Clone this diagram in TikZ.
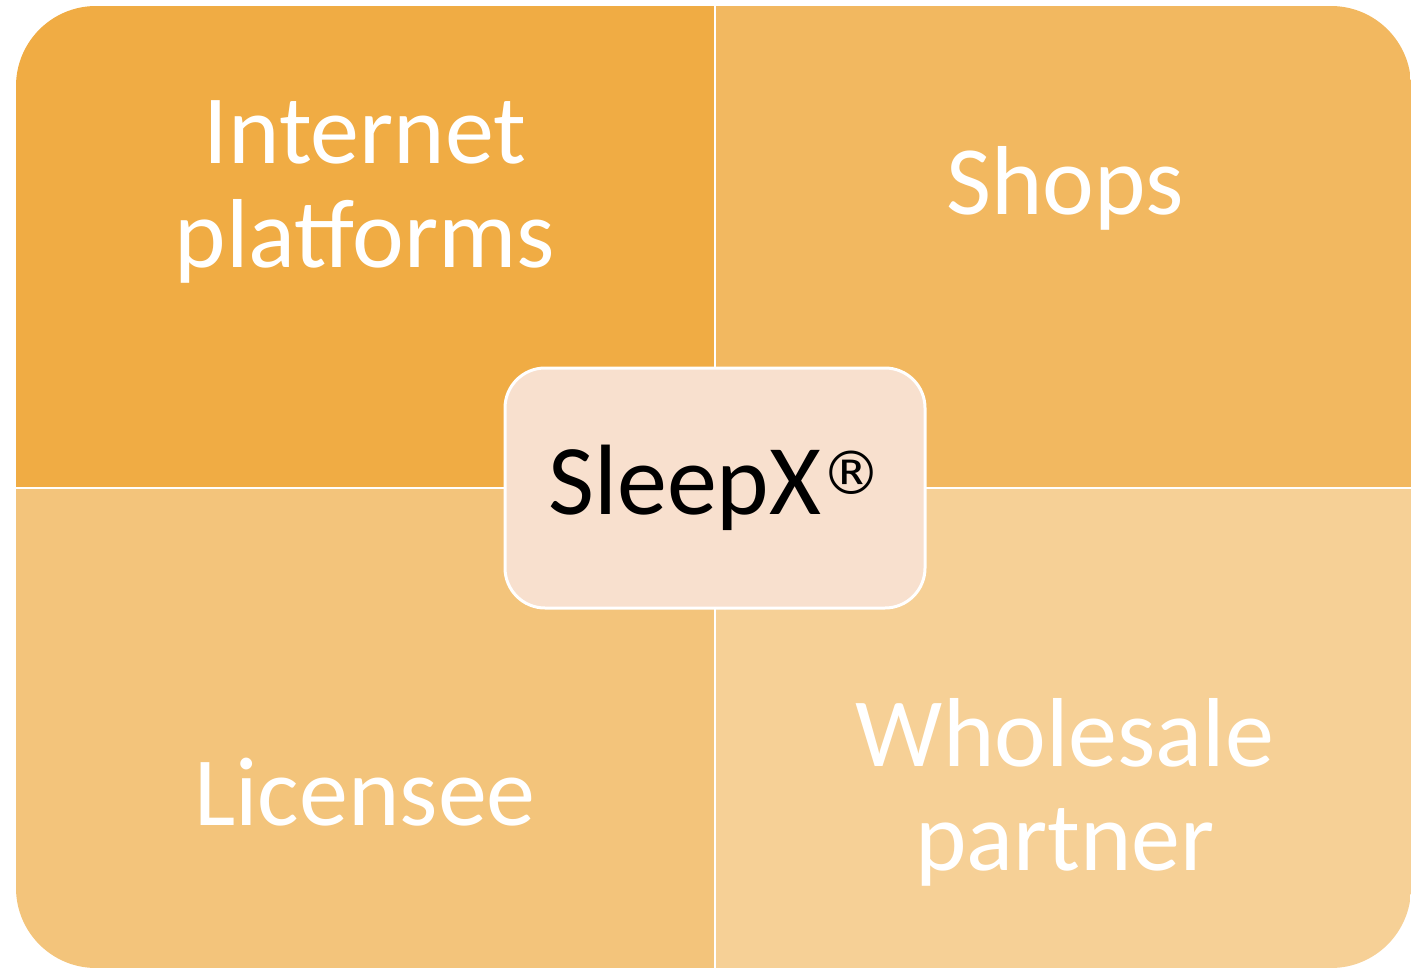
\documentclass[tikz,border=0pt]{standalone}
\usepackage{fontspec}
\setmainfont{Carlito}
\newfontfamily\markfont{DejaVu Sans}
\usetikzlibrary{positioning}

\definecolor{webfill}{RGB}{240,172,68}
\definecolor{shopfill}{RGB}{242,184,96}
\definecolor{licfill}{RGB}{243,196,123}
\definecolor{salefill}{RGB}{246,208,150}
\definecolor{corefill}{RGB}{248,224,206}

\newcommand{\regmark}{\raisebox{0.2em}{\markfont\fontsize{30}{30}\selectfont ®}}

\begin{document}
\begin{tikzpicture}[x=0.5pt,y=-0.5pt,
    channel/.style={text=white,align=center,font=\fontsize{49}{52}\selectfont},
    brand/.style={draw=white,line width=1.5pt,fill=corefill,rounded corners=20pt,
      minimum width=210pt,minimum height=120pt,font=\fontsize{50}{52}\selectfont}]
  \useasboundingbox (0,0) rectangle (1411,968);

  % four sales channels
  \begin{scope}
    \clip[rounded corners=40pt] (16,6) rectangle (1411,968);
    \fill[webfill]  (16,6)    rectangle (715,488);
    \fill[shopfill] (715,6)   rectangle (1411,488);
    \fill[licfill]  (16,488)  rectangle (715,968);
    \fill[salefill] (715,488) rectangle (1411,968);
    \draw[white,line width=1pt] (715,6) -- (715,968) (16,488) -- (1411,488);
  \end{scope}

  \node[channel] (web)  at (365,192)  {Internet\\platforms};
  \node[channel] (shop) at (1065,188) {Shops};
  \node[channel] (lic)  at (365,792)  {Licensee};
  \node[channel] (sale) at (1065,792) {Wholesale\\partner};

  \node[brand] (core) at (715,488) {SleepX\regmark};
\end{tikzpicture}
\end{document}
